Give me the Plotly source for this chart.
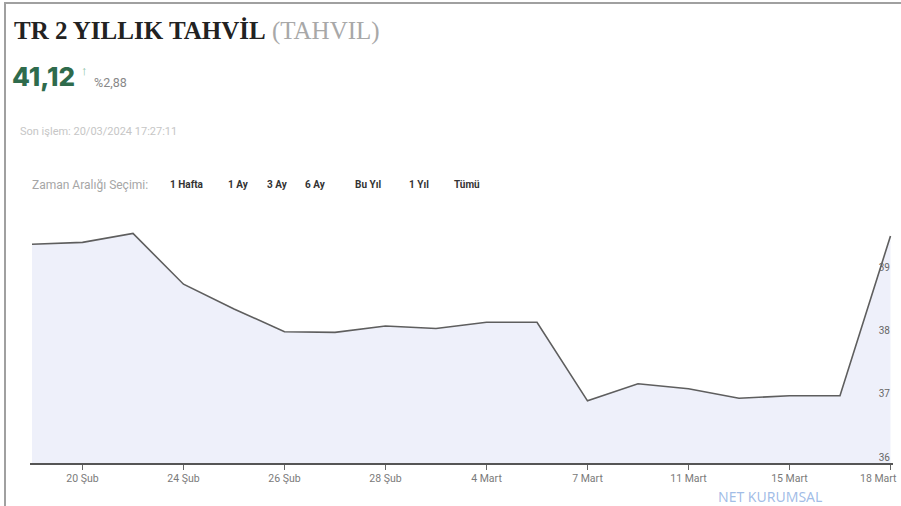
import plotly.graph_objects as go

# Daily closing yields of the 2-year Turkish bond
dates = ["19 Şub", "20 Şub", "22 Şub", "24 Şub", "25 Şub", "26 Şub", "27 Şub", "28 Şub",
         "1 Mart", "4 Mart", "6 Mart", "7 Mart", "8 Mart", "11 Mart", "13 Mart", "15 Mart",
         "17 Mart", "18 Mart"]
yields = [39.36, 39.39, 39.53, 38.73, 38.34, 37.98, 37.97, 38.07, 38.03, 38.13, 38.13,
          36.89, 37.16, 37.08, 36.93, 36.97, 36.97, 39.49]
tick_dates = ["20 Şub", "24 Şub", "26 Şub", "28 Şub", "4 Mart", "7 Mart", "11 Mart",
              "15 Mart", "18 Mart"]
y_ticks = [36, 37, 38, 39]
range_options = ["1 Hafta", "1 Ay", "3 Ay", "6 Ay", "Bu Yıl", "1 Yıl", "Tümü"]

W, H = 901, 506
L, R, T, B = 30, 8, 210, 43


def px(x):
    return (x - L) / (W - L - R)


def py(y):
    return (H - B - y) / (H - T - B)


fig = go.Figure()
fig.add_trace(go.Scatter(
    x=dates, y=yields, mode="lines",
    line=dict(color="#5e5e5e", width=1.6),
    fill="tozeroy", fillcolor="rgba(236,238,250,0.9)",
    hoverinfo="skip",
))

annotations = []


def text(x, y, s, size, color, family="Roboto, sans-serif", anchor="left", weight=None):
    f = dict(size=size, color=color, family=family)
    if weight:
        f["weight"] = weight
    annotations.append(dict(
        x=px(x), y=py(y), xref="paper", yref="paper", text=s, showarrow=False,
        xanchor=anchor, yanchor="middle", font=f,
    ))


# Header
text(12, 31, "<b>TR 2 YILLIK TAHVİL</b> <span style='color:#a8a8a8'>(TAHVIL)</span>",
     25, "#222222", family="Liberation Serif, serif")
text(10, 76, "41,12", 26, "#2f6b4c", family="Inter, sans-serif", weight=800)
text(79, 70, "↑", 13, "#8cc2a4")
text(92, 82, "%2,88", 12.5, "#888888")
text(18, 131, "Son işlem: 20/03/2024 17:27:11", 11, "#c6c6c6")
text(30, 185, "Zaman Aralığı Seçimi:", 12, "#a6a6a6")

opt_x = [168, 226, 265, 303, 353, 407, 452]
for x, s in zip(opt_x, range_options):
    text(x, 185, "<b>" + s + "</b>", 10, "#333333")

# Watermark
text(716, 496, "NET KURUMSAL", 14, "rgba(120,160,220,0.7)", family="Noto Sans, sans-serif")

# Last date label sits at the right edge, so it is right-aligned to its tick
tick_text = tick_dates[:-1] + [""]
annotations.append(dict(
    x=tick_dates[-1], y=py(478), xref="x", yref="paper", text=tick_dates[-1],
    showarrow=False, xanchor="right", yanchor="middle", xshift=9,
    font=dict(size=10.5, color="#7a7a7a", family="Roboto, sans-serif"),
))

# Frame around the card (right and bottom edges run off the page)
shapes = [
    dict(type="rect", xref="paper", yref="paper",
         x0=px(5), x1=px(920), y0=py(3), y1=py(530),
         line=dict(color="#a0a0a0", width=2), fillcolor="rgba(0,0,0,0)", layer="above"),
]

fig.update_layout(
    width=W, height=H,
    margin=dict(l=L, r=R, t=T, b=B, autoexpand=False),
    paper_bgcolor="white", plot_bgcolor="white",
    showlegend=False,
    annotations=annotations,
    shapes=shapes,
    xaxis=dict(
        type="category", range=[-0.04, 17.05], automargin=False,
        tickmode="array", tickvals=tick_dates, ticktext=tick_text,
        showgrid=False, zeroline=False,
        showline=True, linecolor="#555555", linewidth=1.5,
        ticks="outside", ticklen=5, tickcolor="#666666",
        tickfont=dict(size=10.5, color="#7a7a7a", family="Roboto, sans-serif"),
    ),
    yaxis=dict(
        range=[35.91, 39.9], side="right", automargin=False,
        tickmode="array", tickvals=y_ticks,
        ticklabelposition="inside", ticklabeloverflow="allow",
        showgrid=False, zeroline=False, showline=False,
        tickfont=dict(size=10, color="#666666", family="Roboto, sans-serif"),
    ),
)

fig.write_html("out.html")
